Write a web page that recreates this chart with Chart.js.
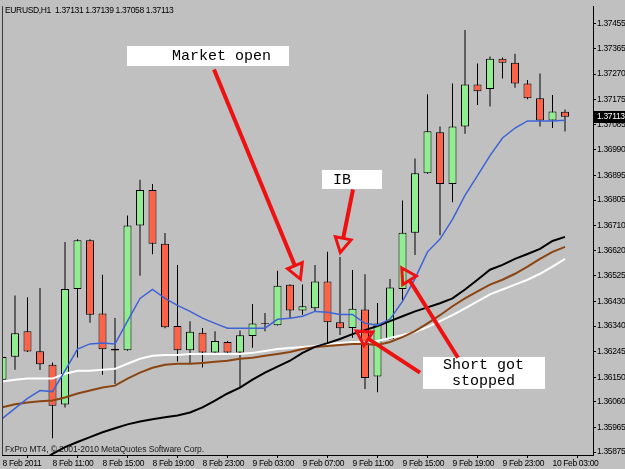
<!DOCTYPE html>
<html><head><meta charset="utf-8">
<script src="https://cdn.jsdelivr.net/npm/chart.js@4.4.1/dist/chart.umd.min.js"></script>
<style>html,body{margin:0;padding:0;background:#c0c0c0;}canvas{display:block;}</style>
</head><body>
<canvas id="c" width="625" height="469"></canvas>
<script>
// ---- data ----
const symbol = 'EURUSD,H1';
const timeLabels = ['8 Feb 2011','8 Feb 11:00','8 Feb 15:00','8 Feb 19:00','8 Feb 23:00','9 Feb 03:00','9 Feb 07:00','9 Feb 11:00','9 Feb 15:00','9 Feb 19:00','9 Feb 23:00','10 Feb 03:00'];
const timeTickBars = [0,4,8,12,16,20,24,28,32,36,40,44];
const priceTicks = [1.37455,1.37365,1.37270,1.37175,1.37085,1.36990,1.36895,1.36805,1.36710,1.36620,1.36525,1.36430,1.36340,1.36245,1.36150,1.36060,1.35965,1.35875];

const opens  = [1.36142,1.36227,1.36321,1.36247,1.36197,1.36050,1.36477,1.36657,1.36386,1.36256,1.36251,1.36711,1.36842,1.36644,1.36340,1.36251,1.36315,1.36242,1.36281,1.36242,1.36303,1.36348,1.36343,1.36492,1.36397,1.36406,1.36504,1.36354,1.36333,1.36401,1.36154,1.36291,1.36477,1.36684,1.36904,1.37055,1.36864,1.37077,1.37232,1.37215,1.37327,1.37312,1.37235,1.37181,1.37099,1.37131];
const highs  = [1.36350,1.36453,1.36446,1.36480,1.36205,1.36650,1.36660,1.36660,1.36529,1.36370,1.36748,1.36880,1.36864,1.36683,1.36565,1.36358,1.36333,1.36321,1.36285,1.36324,1.36421,1.36388,1.36544,1.36494,1.36493,1.36565,1.36614,1.36595,1.36547,1.36531,1.36425,1.36514,1.36803,1.36958,1.37196,1.37077,1.37235,1.37433,1.37309,1.37335,1.37331,1.37345,1.37248,1.37272,1.37193,1.37139];
const lows   = [1.36138,1.36179,1.36244,1.36178,1.35926,1.36039,1.36224,1.36352,1.36160,1.36126,1.36249,1.36526,1.36605,1.36332,1.36209,1.36199,1.36187,1.36241,1.36241,1.36112,1.36260,1.36321,1.36342,1.36370,1.36382,1.36394,1.36278,1.36307,1.36297,1.36108,1.36096,1.36290,1.36431,1.36602,1.36902,1.36675,1.36797,1.37050,1.37156,1.37150,1.37254,1.37220,1.37177,1.37077,1.37071,1.37058];
const closes = [1.36226,1.36313,1.36246,1.36199,1.36046,1.36477,1.36657,1.36382,1.36254,1.36250,1.36711,1.36842,1.36644,1.36336,1.36251,1.36319,1.36242,1.36285,1.36242,1.36306,1.36349,1.36350,1.36489,1.36397,1.36413,1.36504,1.36354,1.36332,1.36404,1.36148,1.36349,1.36482,1.36684,1.36904,1.37059,1.36864,1.37077,1.37232,1.37207,1.37327,1.37312,1.37235,1.37181,1.37099,1.37132,1.37113];

const maBlue  = [1.35999,1.36036,1.36073,1.36102,1.36098,1.36175,1.36255,1.36274,1.36277,1.36274,1.36358,1.36442,1.36475,1.36442,1.36416,1.36394,1.36369,1.36350,1.36332,1.36332,1.36332,1.36332,1.36365,1.36369,1.36376,1.36394,1.36391,1.36383,1.36383,1.36350,1.36343,1.36365,1.36431,1.36515,1.36614,1.36661,1.36734,1.36822,1.36895,1.36969,1.37034,1.37071,1.37097,1.37097,1.37097,1.37100];
const maWhite = [1.36135,1.36142,1.36146,1.36146,1.36146,1.36164,1.36175,1.36175,1.36179,1.36182,1.36201,1.36219,1.36230,1.36233,1.36233,1.36237,1.36237,1.36237,1.36237,1.36237,1.36241,1.36248,1.36255,1.36259,1.36263,1.36266,1.36274,1.36277,1.36281,1.36281,1.36285,1.36296,1.36307,1.36318,1.36336,1.36358,1.36380,1.36405,1.36431,1.36457,1.36475,1.36493,1.36511,1.36533,1.36559,1.36588];
const maBrown = [1.36040,1.36051,1.36058,1.36062,1.36065,1.36076,1.36091,1.36102,1.36113,1.36120,1.36146,1.36168,1.36186,1.36197,1.36201,1.36201,1.36204,1.36208,1.36212,1.36219,1.36223,1.36230,1.36237,1.36244,1.36255,1.36263,1.36266,1.36270,1.36274,1.36274,1.36270,1.36281,1.36299,1.36321,1.36350,1.36380,1.36413,1.36442,1.36468,1.36493,1.36511,1.36533,1.36559,1.36588,1.36614,1.36632];
const maBlack = [null,null,null,1.35838,1.35868,1.35893,1.35912,1.35930,1.35948,1.35963,1.35977,1.35988,1.35996,1.36003,1.36010,1.36021,1.36040,1.36065,1.36091,1.36113,1.36142,1.36168,1.36190,1.36212,1.36241,1.36263,1.36277,1.36292,1.36310,1.36325,1.36340,1.36358,1.36376,1.36394,1.36409,1.36424,1.36442,1.36475,1.36511,1.36548,1.36566,1.36588,1.36606,1.36625,1.36654,1.36669];

// annotations (bar index / price coordinates)
const noteBoxes = [
  {x1:9.96, x2:22.92, y1:1.37374, y2:1.37301, lines:['Market open'], textX:13.56},
  {x1:25.56, x2:30.36, y1:1.36917, y2:1.36848, lines:['IB'], textX:26.44},
  {x1:33.64, x2:43.4, y1:1.36226, y2:1.36109, lines:['Short got','stopped'], textX:35.24}
];
const noteArrows = [
  {x1:16.92, y1:1.37287, x2:23.88, y2:1.36508},
  {x1:28.04, y1:1.36844, x2:27.0, y2:1.36606},
  {x1:36.44, y1:1.36223, x2:31.88, y2:1.36559},
  {x1:33.4, y1:1.36168, x2:28.2, y2:1.36325}
];

// ---- chart ----
const BG = '#c0c0c0';
const BULL = '#90ee90', BEAR = '#ff6347';
const smallFont = '"Liberation Sans", Arial, sans-serif';
const n = opens.length;
const pts = arr => arr.map((v,i)=>({x:i, y:v}));

const decor = {
  id:'decor',
  beforeDraw(chart){
    const c = chart.ctx;
    try { c.letterSpacing = '-0.35px'; } catch(e) {}
    c.save(); c.fillStyle = BG; c.fillRect(0,0,chart.width,chart.height); c.restore();
  },
  beforeDatasetsDraw(chart){
    const c = chart.ctx, a = chart.chartArea;
    c.save();
    try { c.letterSpacing = '-0.1px'; } catch(e) {}
    c.fillStyle = '#1a1a1a';
    c.font = '8.5px ' + smallFont;
    c.textBaseline = 'alphabetic';
    c.fillText('FxPro MT4, \u00A9 2001-2010 MetaQuotes Software Corp.', a.left+3, a.bottom-3);
    c.restore();
  },
  afterDatasetsDraw(chart){
    const c = chart.ctx, a = chart.chartArea, xs = chart.scales.x, ys = chart.scales.y;
    c.save();
    try { c.letterSpacing = '0px'; } catch(e) {}
    // left frame
    c.strokeStyle = '#3a3a3a'; c.lineWidth = 1;
    c.beginPath(); c.moveTo(a.left+0.5, a.bottom); c.lineTo(a.left+0.5, a.top); c.stroke();
    // boxes
    noteBoxes.forEach(b=>{
      const X1 = xs.getPixelForValue(b.x1), X2 = xs.getPixelForValue(b.x2);
      const Y1 = ys.getPixelForValue(b.y1), Y2 = ys.getPixelForValue(b.y2);
      c.fillStyle = '#ffffff';
      c.fillRect(Math.round(X1), Math.round(Y1), Math.round(X2-X1), Math.round(Y2-Y1));
      c.fillStyle = '#000';
      c.font = '15px "Liberation Mono", "DejaVu Sans Mono", monospace';
      c.textBaseline = 'middle';
      const lh = (Y2-Y1)/b.lines.length;
      const tx = xs.getPixelForValue(b.textX);
      b.lines.forEach((t,i)=>{
        const w0 = c.measureText(b.lines[0]).width, w = c.measureText(t).width;
        c.fillText(t, tx + (w0-w)/2, Y1 + lh*(i+0.5) + 0.5);
      });
    });
    // arrows
    const red = '#ee1111';
    noteArrows.forEach(ar=>{
      const X1 = xs.getPixelForValue(ar.x1), Y1 = ys.getPixelForValue(ar.y1);
      const X2 = xs.getPixelForValue(ar.x2), Y2 = ys.getPixelForValue(ar.y2);
      const dx = X2-X1, dy = Y2-Y1, L = Math.hypot(dx,dy), ux = dx/L, uy = dy/L;
      const HL = 16, HW = 8;
      const bx = X2 - ux*HL, by = Y2 - uy*HL;
      c.strokeStyle = red; c.lineCap = 'butt';
      c.lineWidth = 4;
      c.beginPath(); c.moveTo(X1,Y1); c.lineTo(bx,by); c.stroke();
      c.lineWidth = 3; c.lineJoin = 'miter';
      c.beginPath();
      c.moveTo(X2 - ux*1.5, Y2 - uy*1.5);
      c.lineTo(bx - uy*HW, by + ux*HW);
      c.lineTo(bx + uy*HW, by - ux*HW);
      c.closePath(); c.stroke();
    });
    c.restore();
  },
  afterDraw(chart){
    const c = chart.ctx, a = chart.chartArea, ys = chart.scales.y;
    c.save();
    c.fillStyle = '#000';
    c.font = '8.5px ' + smallFont;
    c.textBaseline = 'middle';
    const li = n-1;
    c.fillText(symbol + '  ' + [opens[li],highs[li],lows[li],closes[li]].map(v=>v.toFixed(5)).join(' '), a.left+3, a.top+5);
    // current price label
    const py = Math.round(ys.getPixelForValue(closes[li]));
    c.fillStyle = '#000';
    c.fillRect(a.right+1, py-6, chart.width-a.right-1, 12);
    c.fillStyle = '#fff';
    c.fillText(closes[li].toFixed(5), a.right+4, py);
    c.restore();
  }
};

new Chart(document.getElementById('c'), {
  type:'bar',
  data:{
    datasets:[
      {type:'line', data:pts(maBlue),  borderColor:'#3f63d6', borderWidth:1.5, pointRadius:0, tension:0, order:1},
      {type:'line', data:pts(maBlack), borderColor:'#000000', borderWidth:2, pointRadius:0, tension:0, order:2, spanGaps:false},
      {type:'line', data:pts(maBrown), borderColor:'#8b4513', borderWidth:2, pointRadius:0, tension:0, order:3},
      {type:'line', data:pts(maWhite), borderColor:'#ffffff', borderWidth:2, pointRadius:0, tension:0, order:4},
      {type:'bar', data:opens.map((o,i)=>({x:i, y:[o, closes[i]]})),
        backgroundColor:closes.map((cl,i)=> cl>=opens[i] ? BULL : BEAR),
        borderColor:'#000', borderWidth:1, borderSkipped:false, barThickness:8, grouped:false, inflateAmount:0, order:5},
      {type:'bar', data:lows.map((l,i)=>({x:i, y:[l, highs[i]]})),
        backgroundColor:'#000', borderWidth:0, barThickness:1, grouped:false, inflateAmount:0, order:6}
    ]
  },
  options:{
    responsive:false, animation:false, devicePixelRatio:1,
    layout:{padding:{left:2, top:2, right:0, bottom:0}},
    plugins:{legend:{display:false}, tooltip:{enabled:false}},
    scales:{
      x:{type:'linear', position:'bottom', min:-0.04, max:47.24, offset:false,
        grid:{display:true, drawOnChartArea:false, drawTicks:true, tickLength:3, color:'#000'},
        border:{display:true, color:'#000', width:1},
        ticks:{align:'start', maxRotation:0, autoSkip:false, padding:1, color:'#000', font:{family:smallFont, size:8.5},
          callback:(v)=>{const i = timeTickBars.indexOf(v); return i>=0 ? timeLabels[i] : '';}},
        afterBuildTicks:(s)=>{ s.ticks = timeTickBars.map(v=>({value:v})); },
        afterFit:(s)=>{ s.height = 14; }
      },
      y:{type:'linear', position:'right', min:1.35864, max:1.37521,
        grid:{display:true, drawOnChartArea:false, drawTicks:true, tickLength:3, color:'#000'},
        border:{display:true, color:'#000', width:1},
        ticks:{padding:1, color:'#000', font:{family:smallFont, size:8.5}, callback:(v)=>Number(v).toFixed(5)},
        afterBuildTicks:(s)=>{ s.ticks = priceTicks.map(v=>({value:v})); },
        afterFit:(s)=>{ s.width = 32; }
      }
    }
  },
  plugins:[decor]
});
</script>
</body></html>
